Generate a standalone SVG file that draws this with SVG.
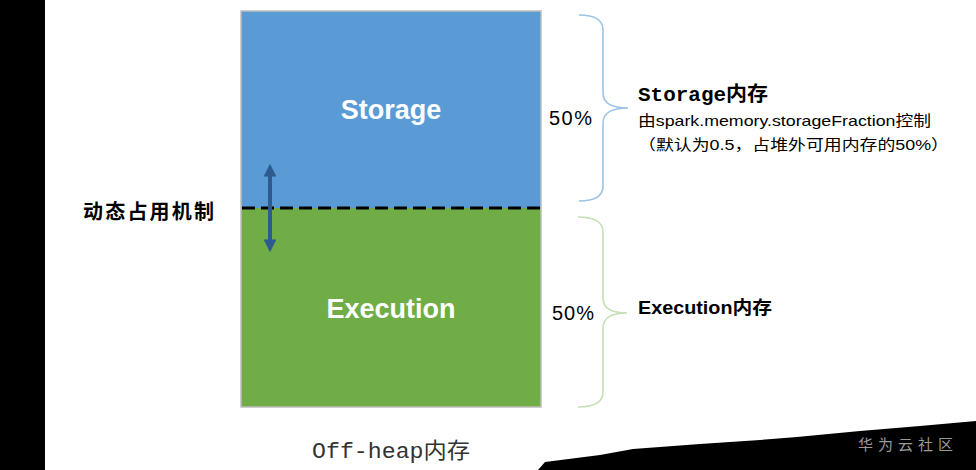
<svg xmlns="http://www.w3.org/2000/svg" width="976" height="470" viewBox="0 0 976 470">
<style>
.inner{font-family:"Liberation Sans","Noto Sans",sans-serif;font-weight:bold;font-size:27px;fill:#fff;text-anchor:middle}
.pct{font-family:"Liberation Sans","Noto Sans",sans-serif;font-size:20px;fill:#000}
.lbl{font-family:"Liberation Sans","Noto Sans CJK SC",sans-serif;fill:#000}
.mono{font-family:"Liberation Mono","Noto Sans CJK SC",monospace}
.brace{fill:none;stroke-width:1.6}
</style>
<defs>
<marker id="ah" viewBox="0 0 10 10" refX="2" refY="5" markerWidth="3.2" markerHeight="3.2" orient="auto-start-reverse" markerUnits="strokeWidth">
<path d="M0,0 L10,5 L0,10 z" fill="#2D5B8E"/>
</marker>
</defs>
<rect x="0" y="0" width="976" height="470" fill="#fff"/>
<rect x="0" y="0" width="45" height="470" fill="#000"/>
<path d="M538,470 L545,462 L600,455 L633,449 L700,444 L760,440 L797,437 L860,431 L920,426 L976,421 L976,470 Z" fill="#000"/>
<text x="908" y="450" text-anchor="middle" font-family="Noto Sans CJK SC,sans-serif" font-size="15" letter-spacing="5" fill="#9a9a9a">华为云社区</text>

<g id="storage">
<rect x="241" y="11" width="300" height="197" fill="#5B9BD5"/>
<text class="inner" x="391" y="119">Storage</text>
</g>
<g id="execution">
<rect x="241" y="208" width="300" height="199" fill="#70AD47"/>
<text class="inner" x="391" y="318">Execution</text>
</g>
<rect x="241" y="11" width="300" height="396" fill="none" stroke="#BDBDBD" stroke-width="1.5"/>

<g id="connectors">
<line x1="242" y1="208" x2="541" y2="208" stroke="#000" stroke-width="3" stroke-dasharray="13,6"/>
<line x1="270" y1="174" x2="270" y2="242" stroke="#2D5B8E" stroke-width="4" marker-start="url(#ah)" marker-end="url(#ah)"/>
<path class="brace" stroke="#9DC3E6" d="M579,15 Q603,15 603,30 L603,93 Q603,108 628,108 Q603,108 603,123 L603,186 Q603,201 579,201"/>
<path class="brace" stroke="#C5E0B4" d="M578,217 Q603,217 603,232 L603,298 Q603,313 627,313 Q603,313 603,328 L603,392 Q603,407 578,407"/>
</g>

<g id="dynamic">
<text class="lbl" x="83" y="219" font-size="20" font-weight="bold" textLength="131" lengthAdjust="spacing">动态占用机制</text>
</g>
<g id="pct-storage"><text class="pct" x="549" y="125" textLength="43">50%</text></g>
<g id="pct-exec"><text class="pct" x="552" y="320" textLength="42">50%</text></g>

<g id="storage-label">
<text class="mono" x="638" y="101" font-size="20" font-weight="bold" textLength="130" lengthAdjust="spacingAndGlyphs">Storage内存</text>
<text class="lbl" x="638" y="126" font-size="15" textLength="293" lengthAdjust="spacingAndGlyphs">由spark.memory.storageFraction控制</text>
<text class="lbl" x="638" y="150" font-size="15" textLength="311" lengthAdjust="spacingAndGlyphs">（默认为0.5，占堆外可用内存的50%）</text>
</g>
<g id="exec-label">
<text class="lbl" x="638" y="314" font-size="18" font-weight="bold" textLength="134" lengthAdjust="spacingAndGlyphs">Execution内存</text>
</g>
<g id="offheap">
<text class="mono" x="312" y="458" font-size="22" fill="#333" textLength="158" lengthAdjust="spacingAndGlyphs">Off-heap内存</text>
</g>
</svg>
